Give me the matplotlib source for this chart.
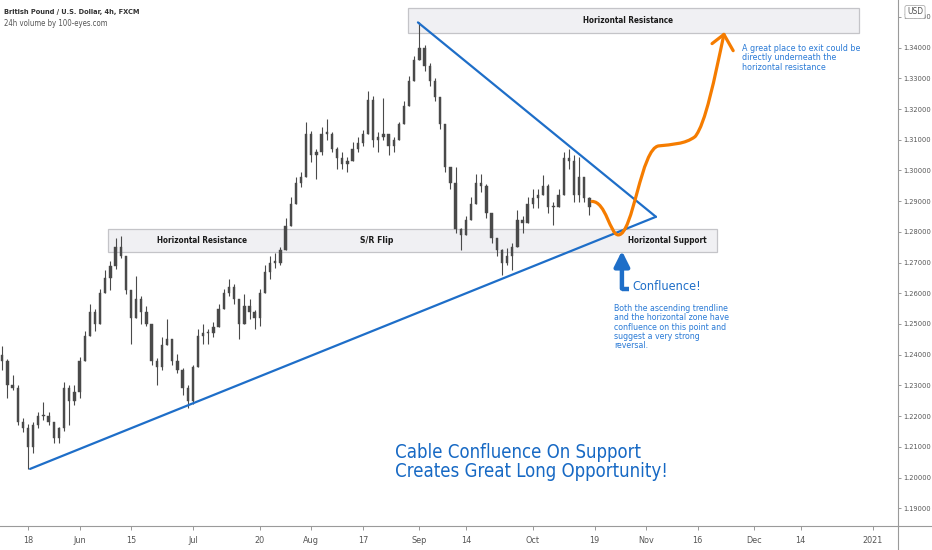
import numpy as np
import matplotlib
matplotlib.use("Agg")
import matplotlib.pyplot as plt
from matplotlib import font_manager
from matplotlib.path import Path
from matplotlib.patches import PathPatch, Rectangle

# daily candles (trading-day index, 0 = May 18 2020)
day0 = -5
highs = [1.2427, 1.2385, 1.2335, 1.2300, 1.2193, 1.2175, 1.2180, 1.2213, 1.2246, 1.2213,
         1.2180, 1.2165, 1.2312, 1.2300, 1.2302, 1.2391, 1.2477, 1.2566, 1.2549, 1.2615,
         1.2675, 1.2704, 1.2780, 1.2787, 1.2720, 1.2610, 1.2655, 1.2590, 1.2560, 1.2500,
         1.2390, 1.2457, 1.2516, 1.2450, 1.2401, 1.2355, 1.2300, 1.2368, 1.2483, 1.2500,
         1.2483, 1.2507, 1.2566, 1.2615, 1.2648, 1.2630, 1.2580, 1.2599, 1.2582, 1.2545,
         1.2615, 1.2691, 1.2721, 1.2731, 1.2750, 1.2846, 1.2912, 1.2978, 1.2994, 1.3159,
         1.3130, 1.3070, 1.3143, 1.3169, 1.3126, 1.3075, 1.3060, 1.3044, 1.3093, 1.3110,
         1.3133, 1.3258, 1.3242, 1.3126, 1.3235, 1.3120, 1.3110, 1.3159, 1.3225, 1.3308,
         1.3374, 1.3482, 1.3407, 1.3350, 1.3300, 1.3240, 1.3150, 1.3011, 1.3011, 1.2813,
         1.2853, 1.2912, 1.2988, 1.2988, 1.2955, 1.2863, 1.2780, 1.2745, 1.2747, 1.2764,
         1.2872, 1.2853, 1.2912, 1.2938, 1.2938, 1.2985, 1.2955, 1.2896, 1.2938, 1.3060,
         1.3070, 1.3051, 1.3044, 1.2980, 1.2912]
lows = [1.2351, 1.2259, 1.2286, 1.2170, 1.2147, 1.2028, 1.2081, 1.2160, 1.2187, 1.2170,
        1.2114, 1.2114, 1.2150, 1.2170, 1.2236, 1.2259, 1.2380, 1.2460, 1.2477, 1.2500,
        1.2600, 1.2609, 1.2680, 1.2714, 1.2599, 1.2434, 1.2520, 1.2500, 1.2493, 1.2368,
        1.2302, 1.2350, 1.2430, 1.2368, 1.2340, 1.2269, 1.2226, 1.2240, 1.2360, 1.2434,
        1.2434, 1.2457, 1.2490, 1.2550, 1.2592, 1.2566, 1.2450, 1.2500, 1.2516, 1.2483,
        1.2493, 1.2600, 1.2648, 1.2681, 1.2691, 1.2740, 1.2820, 1.2890, 1.2945, 1.2980,
        1.3027, 1.2971, 1.3050, 1.3100, 1.3060, 1.3004, 1.3004, 1.2994, 1.3030, 1.3060,
        1.3080, 1.3120, 1.3077, 1.3060, 1.3100, 1.3051, 1.3060, 1.3100, 1.3150, 1.3210,
        1.3290, 1.3360, 1.3324, 1.3275, 1.3225, 1.3136, 1.2994, 1.2938, 1.2797, 1.2741,
        1.2790, 1.2840, 1.2890, 1.2929, 1.2846, 1.2764, 1.2721, 1.2658, 1.2691, 1.2675,
        1.2750, 1.2797, 1.2830, 1.2879, 1.2879, 1.2920, 1.2863, 1.2823, 1.2880, 1.2920,
        1.3004, 1.2896, 1.2896, 1.2896, 1.2856]
closes = [1.2380, 1.2300, 1.2290, 1.2180, 1.2160, 1.2100, 1.2170, 1.2200, 1.2200, 1.2180,
          1.2130, 1.2160, 1.2290, 1.2250, 1.2280, 1.2380, 1.2460, 1.2540, 1.2500, 1.2600,
          1.2650, 1.2690, 1.2750, 1.2720, 1.2610, 1.2520, 1.2580, 1.2540, 1.2500, 1.2380,
          1.2360, 1.2430, 1.2450, 1.2380, 1.2350, 1.2290, 1.2250, 1.2360, 1.2460, 1.2470,
          1.2470, 1.2490, 1.2550, 1.2600, 1.2620, 1.2580, 1.2500, 1.2560, 1.2540, 1.2520,
          1.2600, 1.2670, 1.2700, 1.2700, 1.2740, 1.2820, 1.2890, 1.2960, 1.2980, 1.3120,
          1.3050, 1.3060, 1.3120, 1.3120, 1.3070, 1.3040, 1.3020, 1.3030, 1.3070, 1.3090,
          1.3120, 1.3230, 1.3100, 1.3110, 1.3120, 1.3080, 1.3100, 1.3150, 1.3210, 1.3290,
          1.3360, 1.3400, 1.3340, 1.3290, 1.3240, 1.3150, 1.3010, 1.2960, 1.2810, 1.2790,
          1.2840, 1.2890, 1.2960, 1.2950, 1.2860, 1.2780, 1.2740, 1.2700, 1.2720, 1.2750,
          1.2840, 1.2830, 1.2890, 1.2910, 1.2920, 1.2950, 1.2880, 1.2880, 1.2920, 1.3040,
          1.3030, 1.2920, 1.2980, 1.2910, 1.2880]
first_open = 1.2400

tick_dates = ['2020-05-18', '2020-06-01', '2020-06-15', '2020-07-01', '2020-07-20',
              '2020-08-03', '2020-08-17', '2020-09-01', '2020-09-14', '2020-10-01',
              '2020-10-19', '2020-11-02', '2020-11-16', '2020-12-01', '2020-12-14',
              '2021-01-01']
tick_labels = ['18', 'Jun', '15', 'Jul', '20', 'Aug', '17', 'Sep', '14', 'Oct',
               '19', 'Nov', '16', 'Dec', '14', '2021']
price_ticks = [1.19, 1.20, 1.21, 1.22, 1.23, 1.24, 1.25, 1.26, 1.27, 1.28,
               1.29, 1.30, 1.31, 1.32, 1.33, 1.34, 1.35]

# drawings: (trading day, price)
asc_line = [(0.4, 1.2028), (121.9, 1.2849)]
desc_line = [(75.7, 1.3482), (121.9, 1.2849)]
top_zone = (73.8, 161.4, 1.3446, 1.3529)
mid_zone = (15.5, 133.8, 1.2734, 1.2810)
projection = [(109.5, 1.2899), (112.2, 1.2899), (113.0, 1.2790), (114.6, 1.2790),
              (117.5, 1.2790), (119.0, 1.3075), (122.5, 1.3080),
              (125.0, 1.3085), (127.5, 1.3085), (129.5, 1.3110),
              (131.5, 1.3150), (133.3, 1.3300), (135.1, 1.3443)]
proj_head = [(132.8, 1.3413), (135.1, 1.3443), (136.9, 1.3390)]
confl_arrow = [(116.7, 1.2615), (115.3, 1.2615), (115.3, 1.2738)]

# a narrow sans if there is one, the chart text is condensed
fonts = font_manager.fontManager.ttflist
narrow = [f for f in fonts if ('Narrow' in f.name or 'Condensed' in f.name
                               or f.stretch in ('condensed', 'semi-condensed'))
          and 'Mono' not in f.name and 'Serif' not in f.name]
if narrow:
    plt.rcParams['font.family'] = [narrow[0].name, 'DejaVu Sans']
    plt.rcParams['font.stretch'] = narrow[0].stretch
else:
    plt.rcParams['font.family'] = ['Roboto', 'DejaVu Sans']

blue = '#1e6ec8'
txt_blue = '#2a7ad6'
orange = '#f57c00'
candle_c = '#4a4a4a'
W, H = 932, 550

fig = plt.figure(figsize=(9.32, 5.5), dpi=100)
ax = fig.add_axes([0, 24 / H, 898 / W, 526 / H])

days = np.arange(day0, day0 + len(closes))
highs = np.array(highs)
lows = np.array(lows)
closes = np.array(closes)
opens = np.r_[first_open, closes[:-1]]
ax.vlines(days, lows, highs, color=candle_c, lw=0.8, zorder=2)
body_lo = np.minimum(opens, closes)
body_h = np.maximum(np.abs(closes - opens), 0.0004)
ax.bar(days, body_h, bottom=body_lo, width=0.45, color=candle_c, edgecolor=candle_c,
       lw=0.3, zorder=2)

# zones
for x0, x1, y0, y1 in (top_zone, mid_zone):
    ax.add_patch(Rectangle((x0, y0), x1 - x0, y1 - y0, facecolor='#f0f0f3',
                           edgecolor='#c4c4c8', lw=0.9, zorder=1.5))
fit = []
mid_y = (mid_zone[2] + mid_zone[3]) / 2
box_style = dict(ha='center', va='center', fontsize=7.5, color='#1a1a1a',
                 fontweight='bold', zorder=3)
fit.append((ax.text(116.5, (top_zone[2] + top_zone[3]) / 2, 'Horizontal Resistance',
                    **box_style), 90))
fit.append((ax.text(33.8, mid_y, 'Horizontal Resistance', **box_style), 90))
fit.append((ax.text(67.6, mid_y, 'S/R Flip', **box_style), 33))
fit.append((ax.text(124.1, mid_y, 'Horizontal Support', **box_style), 78))

# trend lines
for line in (asc_line, desc_line):
    xs, ys = zip(*line)
    ax.plot(xs, ys, color=blue, lw=1.6, zorder=4, solid_capstyle='round')

# projected path
codes = [Path.MOVETO] + [Path.CURVE4] * (len(projection) - 1)
ax.add_patch(PathPatch(Path(projection, codes), facecolor='none', edgecolor=orange,
                       lw=2.3, capstyle='round', zorder=5))
hx, hy = zip(*proj_head)
ax.plot(hx, hy, color=orange, lw=2.3, solid_capstyle='round', zorder=5)

# confluence arrow
cx, cy = zip(*confl_arrow)
ax.plot(cx[:2], cy[:2], color=blue, lw=3.2, solid_capstyle='butt', zorder=5)
ax.annotate('', xy=confl_arrow[2], xytext=confl_arrow[1],
            arrowprops=dict(arrowstyle='-|>,head_length=0.9,head_width=0.45',
                            color=blue, lw=3.2, shrinkA=0, shrinkB=0), zorder=5)

ax.set_xlim(-5.44, 168.9)
ax.set_ylim(1.18421, 1.35550)

ax.set_xticks(np.busday_count('2020-05-18', tick_dates))
ax.set_xticklabels(tick_labels)
ax.yaxis.tick_right()
ax.set_yticks(price_ticks)
ax.set_yticklabels(['%.5f' % p for p in price_ticks])
ax.tick_params(axis='both', colors='#888888', labelcolor='#555555', labelsize=6.5,
               length=3, width=0.6)
ax.tick_params(axis='x', pad=4)
ax.tick_params(axis='y', pad=1.5, labelsize=5.3, length=2.5)
for s in ('top', 'left'):
    ax.spines[s].set_visible(False)
for s in ('bottom', 'right'):
    ax.spines[s].set_color('#9a9a9a')
    ax.spines[s].set_linewidth(0.8)
fig.add_artist(plt.Line2D([898 / W, 1], [24 / H, 24 / H], color='#9a9a9a', lw=0.8))
fig.add_artist(plt.Line2D([898 / W, 898 / W], [0, 24 / H], color='#9a9a9a', lw=0.8))

# header
fit.append((fig.text(4 / W, 1 - 12 / H, 'British Pound / U.S. Dollar, 4h, FXCM',
                     fontsize=7, color='#333333', va='center', fontweight='bold'), 138))
fit.append((fig.text(4 / W, 1 - 24 / H, '24h volume by 100-eyes.com', fontsize=7,
                     color='#555555', va='center'), 104))
fig.text(915 / W, 1 - 12 / H, 'USD', fontsize=6, color='#555555', ha='center',
         va='center', zorder=10,
         bbox=dict(boxstyle='round,pad=0.25', fc='white', ec='#b0b0b0', lw=0.6))

# notes
fit.append((fig.text(742 / W, 1 - 58 / H,
                     'A great place to exit could be\ndirectly underneath the\n'
                     'horizontal resistance',
                     fontsize=7, color=txt_blue, va='center', ha='left',
                     linespacing=1.1), 118))
fit.append((fig.text(632 / W, 1 - 286 / H, 'Confluence!', fontsize=11, color=blue,
                     va='center', ha='left'), 68))
fit.append((fig.text(614 / W, 1 - 327 / H,
                     'Both the ascending trendline\nand the horizontal zone have\n'
                     'confluence on this point and\nsuggest a very strong\nreversal.',
                     fontsize=7, color=txt_blue, va='center', ha='left',
                     linespacing=1.05), 116))
fit.append((fig.text(668 / W, 1 - 462 / H,
                     'Cable Confluence On Support\nCreates Great Long Opportunity!',
                     fontsize=16, color='#1769c4', va='center', ha='right',
                     multialignment='left', linespacing=1.05), 275))

# size each text to the width it takes in the chart
fig.canvas.draw()
renderer = fig.canvas.get_renderer()
for t, target in fit:
    w = t.get_window_extent(renderer).width
    t.set_fontsize(t.get_fontsize() * target / w)

fig.savefig('out.png', dpi=100)
